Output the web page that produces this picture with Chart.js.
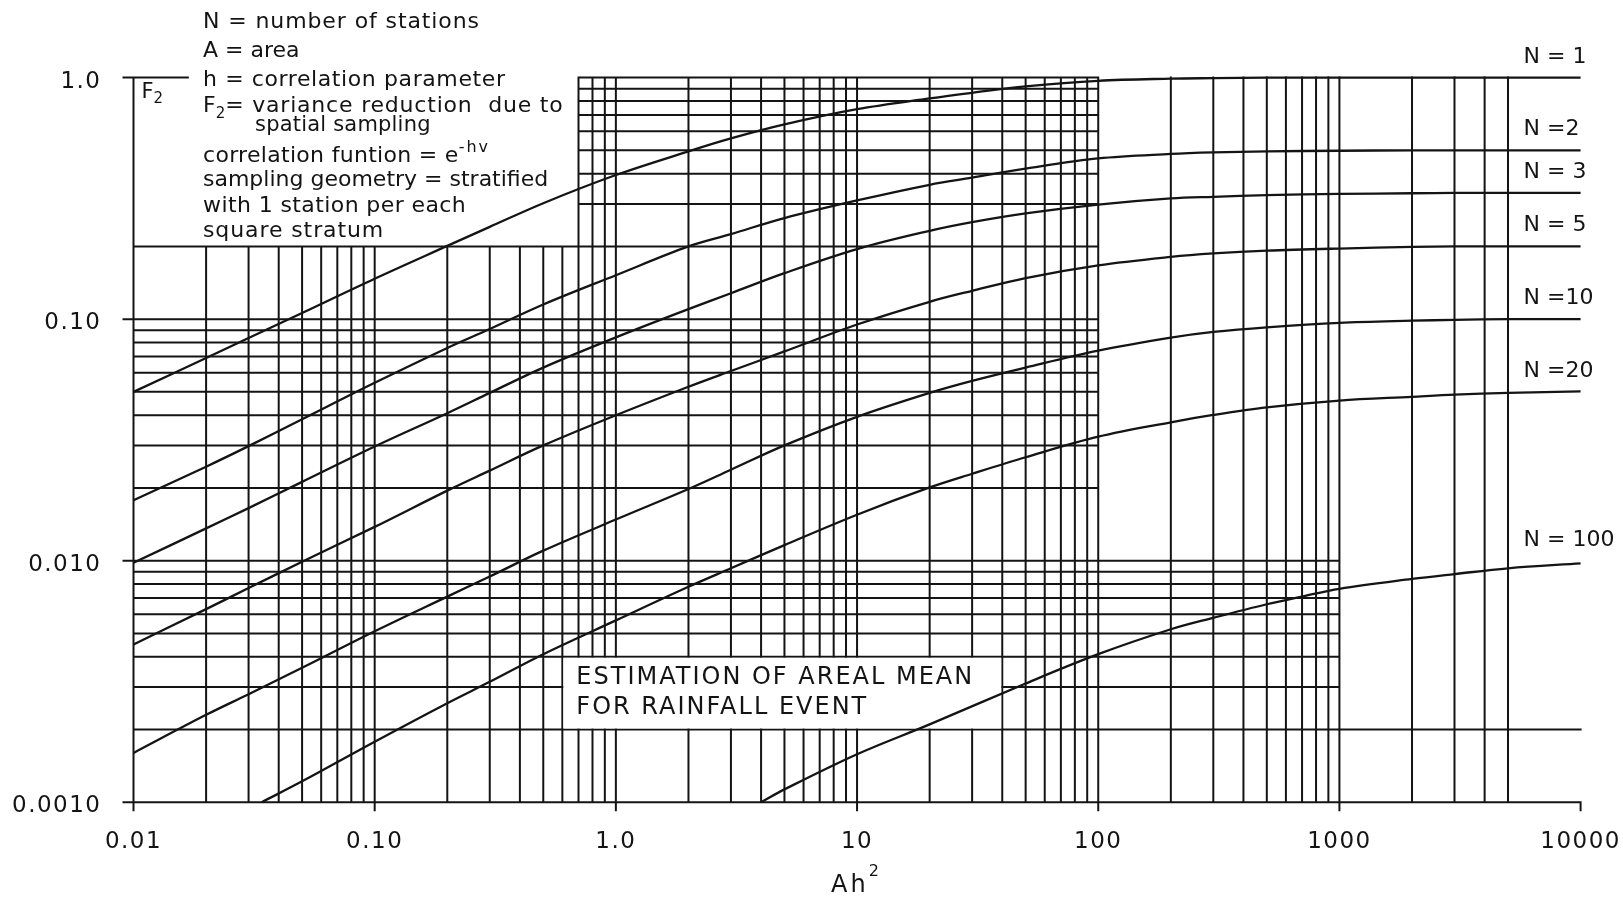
<!DOCTYPE html>
<html>
<head>
<meta charset="utf-8">
<script src="https://cdn.jsdelivr.net/npm/chart.js@4.4.1/dist/chart.umd.min.js"></script>
<style>
  html, body { margin: 0; padding: 0; background: #fff; }
  canvas { display: block; }
</style>
</head>
<body>
<canvas id="f2Canvas" width="1623" height="897"></canvas>
<script>
// Ah^2 values (shared by the N = 1..10 curves)
const ahSq = [0.01, 0.02, 0.03, 0.05, 0.1, 0.2, 0.3, 0.5, 1, 2, 3, 5, 10, 20, 30, 50, 100, 200, 300, 500, 1000, 2000, 3000, 5000, 10000];

const f2N1 = [0.05, 0.069, 0.0835, 0.106, 0.147, 0.201, 0.241, 0.302, 0.395, 0.495, 0.56, 0.64, 0.74, 0.82, 0.865, 0.92, 0.97, 0.99, 0.995, 1, 1, 1, 1, 1, 1];
const f2N2 = [0.0178, 0.0245, 0.0298, 0.0385, 0.0545, 0.076, 0.091, 0.115, 0.152, 0.2, 0.225, 0.262, 0.31, 0.36, 0.385, 0.42, 0.463, 0.483, 0.49, 0.495, 0.498, 0.5, 0.5, 0.5, 0.5];
const f2N3 = [0.0098, 0.0136, 0.0165, 0.0212, 0.0297, 0.0408, 0.0495, 0.063, 0.084, 0.11, 0.128, 0.155, 0.195, 0.232, 0.252, 0.274, 0.298, 0.316, 0.321, 0.326, 0.33, 0.332, 0.333, 0.333, 0.333];
const f2N5 = [0.0045, 0.0063, 0.0077, 0.0099, 0.0138, 0.0195, 0.0236, 0.03, 0.04, 0.0525, 0.061, 0.0735, 0.095, 0.118, 0.131, 0.148, 0.167, 0.181, 0.187, 0.192, 0.196, 0.199, 0.2, 0.2, 0.2];
const f2N10 = [0.0016, 0.0023, 0.0028, 0.0036, 0.0051, 0.0071, 0.0086, 0.011, 0.0148, 0.0198, 0.0238, 0.03, 0.0394, 0.0495, 0.0555, 0.063, 0.074, 0.0838, 0.0885, 0.0925, 0.0965, 0.0985, 0.0993, 0.1, 0.1];

// N = 20 and N = 100 enter the chart from the bottom edge
const ahSqN20 = [0.034, 0.05, 0.1, 0.2, 0.3, 0.5, 1, 2, 3, 5, 10, 20, 30, 50, 100, 200, 300, 500, 1000, 2000, 3000, 5000, 10000];
const f2N20 = [0.001, 0.00122, 0.00178, 0.00257, 0.00315, 0.0041, 0.00566, 0.0078, 0.0093, 0.0116, 0.0155, 0.0201, 0.0229, 0.0268, 0.0326, 0.0374, 0.0401, 0.0431, 0.046, 0.0477, 0.0487, 0.0495, 0.0502];
const ahSqN100 = [4, 5, 10, 20, 50, 100, 200, 300, 500, 700, 1000, 2000, 3000, 5000, 10000];
const f2N100 = [0.001, 0.00113, 0.00158, 0.0021, 0.0031, 0.0041, 0.0052, 0.0058, 0.0066, 0.0071, 0.00765, 0.0084, 0.0088, 0.0093, 0.00975];

const curveLabels = ['N = 1', 'N =2', 'N = 3', 'N = 5', 'N =10', 'N =20', 'N = 100'];
const curveLevels = [1, 0.5, 0.333, 0.2, 0.1, 0.05, 0.01];

// tick labels
const xTickVals = [0.01, 0.1, 1, 10, 100, 1000, 10000];
const xTickLabels = ['0.01', '0.10', '1.0', '10', '100', '1000', '10000'];
const yTickVals = [1, 0.1, 0.01, 0.001];
const yTickLabels = ['1.0', '0.10', '0.010', '0.0010'];

// the printed grid is a patchwork, kept as value lists + value ranges
const gridXLow = [0.02, 0.03, 0.04, 0.05, 0.06, 0.07, 0.08, 0.09, 0.1, 0.2, 0.3, 0.4, 0.5, 0.6];
const gridXFull = [0.7, 0.8, 0.9, 1, 2, 3, 4, 5, 6, 7, 8, 9, 10, 20, 30, 40, 50, 60, 70, 80, 90, 100,
  200, 300, 400, 500, 600, 700, 800, 900, 1000, 2000, 3000, 4000, 5000];
const gridYTop = [0.3, 0.4, 0.5, 0.6, 0.7, 0.8, 0.9, 1];
const gridYMid = [0.2, 0.1, 0.09, 0.08, 0.07, 0.06, 0.05, 0.04, 0.03, 0.02];
const gridYLow = [0.01, 0.009, 0.008, 0.007, 0.006, 0.005, 0.004, 0.003];
const gridYBase = [0.002, 0.001];

const ink = '#141414';
const font = '"DejaVu Sans", sans-serif';

const makeLine = (xs, ys) => ({
  data: xs.map((v, i) => ({ x: v, y: ys[i] })),
  borderColor: ink,
  borderWidth: 2.3,
  pointRadius: 0,
  fill: false,
  tension: 0.35,
  clip: 4
});

const paperGrid = {
  id: 'paperGrid',
  beforeDraw(chart) {
    const { ctx, width, height } = chart;
    ctx.save();
    ctx.fillStyle = '#fff';
    ctx.fillRect(0, 0, width, height);
    ctx.restore();
  },
  beforeDatasetsDraw(chart) {
    const { ctx, scales: { x, y } } = chart;
    const vSeg = (v, a, b) => {
      const px = x.getPixelForValue(v);
      ctx.moveTo(px, y.getPixelForValue(a) + 1);
      ctx.lineTo(px, y.getPixelForValue(b) - 1);
    };
    const hSeg = (v, a, b) => {
      const py = y.getPixelForValue(v);
      ctx.moveTo(x.getPixelForValue(a) - 1, py);
      ctx.lineTo(x.getPixelForValue(b) + 1, py);
    };
    ctx.save();
    ctx.strokeStyle = ink;
    ctx.lineWidth = 2;
    ctx.beginPath();
    vSeg(0.01, 0.001, 1);
    gridXLow.forEach(v => vSeg(v, 0.001, 0.2));
    gridXFull.forEach(v => vSeg(v, 0.001, 1));
    hSeg(1, 0.01, 0.0168);
    gridYTop.forEach(v => hSeg(v, 0.7, 100));
    gridYMid.forEach(v => hSeg(v, 0.01, 100));
    gridYLow.forEach(v => hSeg(v, 0.01, 1000));
    gridYBase.forEach(v => hSeg(v, 0.01, 10000));
    // ticks
    yTickVals.forEach(v => {
      const py = y.getPixelForValue(v);
      ctx.moveTo(x.left - 11, py);
      ctx.lineTo(x.left, py);
    });
    xTickVals.forEach(v => {
      const px = x.getPixelForValue(v);
      ctx.moveTo(px, y.bottom);
      ctx.lineTo(px, y.bottom + 9);
    });
    ctx.stroke();
    // blank label panel inside the grid
    const bx0 = x.getPixelForValue(0.6), bx1 = x.getPixelForValue(40);
    const by0 = y.getPixelForValue(0.004), by1 = y.getPixelForValue(0.002);
    ctx.fillStyle = '#fff';
    ctx.fillRect(bx0 + 1, by0 + 1, bx1 - bx0 - 2, by1 - by0 - 2);
    ctx.restore();
  },
  afterDraw(chart) {
    const { ctx, scales: { x, y } } = chart;
    const rich = (parts, px, py) => {
      parts.forEach(p => {
        ctx.font = `${p.s}px ${font}`;
        ctx.letterSpacing = (p.ls || 0) + 'px';
        ctx.fillText(p.t, px, py + (p.dy || 0));
        px += ctx.measureText(p.t).width;
      });
    };
    ctx.save();
    ctx.fillStyle = ink;
    ctx.textBaseline = 'alphabetic';

    // axis tick labels
    ctx.letterSpacing = '1.5px';
    ctx.font = `23px ${font}`;
    ctx.textAlign = 'center';
    xTickVals.forEach((v, i) => ctx.fillText(xTickLabels[i], x.getPixelForValue(v), y.bottom + 46));
    ctx.textAlign = 'right';
    yTickVals.forEach((v, i) => ctx.fillText(yTickLabels[i], x.left - 32, y.getPixelForValue(v) + 10));

    // axis title  Ah^2
    ctx.textAlign = 'left';
    const tx = x.getPixelForValue(10) - 26;
    rich([{ t: 'Ah', s: 24, ls: 3 }, { t: '2', s: 16, dy: -16 }], tx, 892);

    // curve labels
    ctx.letterSpacing = '0px';
    ctx.font = `22px ${font}`;
    curveLabels.forEach((t, i) => ctx.fillText(t, x.right - 57, y.getPixelForValue(curveLevels[i]) - 15));

    // F2 on the axis
    rich([{ t: 'F', s: 21 }, { t: '2', s: 15, dy: 5 }], x.left + 8, y.top + 20);

    // notes block
    const nx = 203;
    rich([{ t: 'N = number of stations', s: 22, ls: 0.9 }], nx, 28);
    rich([{ t: 'A = area', s: 22 }], nx, 57);
    rich([{ t: 'h = correlation parameter', s: 22, ls: 0.6 }], nx, 86);
    rich([{ t: 'F', s: 22 }, { t: '2', s: 15, dy: 6 }, { t: '= variance reduction  due to', s: 22, ls: 0.8 }], nx, 112);
    rich([{ t: 'spatial sampling', s: 21, ls: 0.2 }], nx + 52, 131);
    rich([{ t: 'correlation funtion = e', s: 22, ls: 0.3 }, { t: '-hv', s: 16, dy: -10, ls: 2 }], nx, 162);
    rich([{ t: 'sampling geometry = stratified', s: 22 }], nx, 186);
    rich([{ t: 'with 1 station per each', s: 22, ls: 0.4 }], nx, 212);
    rich([{ t: 'square stratum', s: 22, ls: 0.9 }], nx, 237);

    // panel text
    ctx.letterSpacing = '2px';
    ctx.font = `24px ${font}`;
    const px0 = x.getPixelForValue(0.6) + 14;
    ctx.fillText('ESTIMATION OF AREAL MEAN', px0, y.getPixelForValue(0.004) + 27);
    ctx.fillText('FOR RAINFALL EVENT', px0, y.getPixelForValue(0.004) + 57);
    ctx.restore();
  }
};

new Chart(document.querySelector('#f2Canvas').getContext('2d'), {
  type: 'line',
  data: {
    datasets: [
      makeLine(ahSq, f2N1),
      makeLine(ahSq, f2N2),
      makeLine(ahSq, f2N3),
      makeLine(ahSq, f2N5),
      makeLine(ahSq, f2N10),
      makeLine(ahSqN20, f2N20),
      makeLine(ahSqN100, f2N100)
    ]
  },
  options: {
    responsive: false,
    animation: false,
    events: [],
    layout: { padding: { left: 133.5, right: 42.4, top: 77.6, bottom: 94.8 } },
    plugins: { legend: { display: false }, tooltip: { enabled: false } },
    scales: {
      x: { type: 'logarithmic', min: 0.01, max: 10000, display: false },
      y: { type: 'logarithmic', min: 0.001, max: 1, display: false }
    }
  },
  plugins: [paperGrid]
});
</script>
</body>
</html>
